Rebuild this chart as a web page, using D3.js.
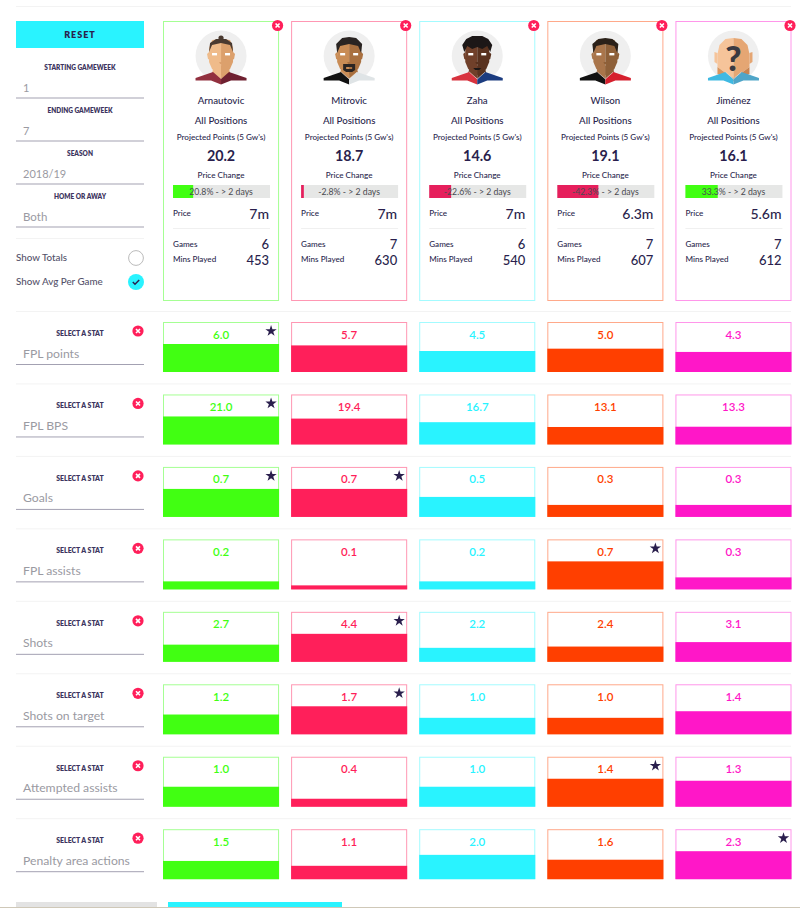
<!DOCTYPE html>
<html><head><meta charset="utf-8">
<script src="https://cdn.jsdelivr.net/npm/d3@7/dist/d3.min.js"></script>
<style>html,body{margin:0;padding:0;background:#fff;overflow:hidden}svg{display:block}text{font-family:Lato,"Noto Sans",sans-serif}</style>
</head><body><svg id="c" width="800" height="908"></svg>
<script>
const players=["Arnautovic","Mitrovic","Zaha","Wilson","Jiménez"];
const projected=[20.2,18.7,14.6,19.1,16.1];
const priceChange=[20.8,-2.8,-22.6,-42.3,33.3];
const prices=["7m","7m","7m","6.3m","5.6m"];
const games=[6,7,6,7,7];
const minsPlayed=[453,630,540,607,612];
const colors=["#41ff12","#ff1f5a","#29f3ff","#ff3f00","#ff17c8"];
const borders=["#a5ff93","#ff97b3","#a3fbff","#ffa98a","#ff96ea"];
const statNames=["FPL points","FPL BPS","Goals","FPL assists","Shots","Shots on target","Attempted assists","Penalty area actions"];
const fplPoints=[6.0,5.7,4.5,5.0,4.3];
const fplBps=[21.0,19.4,16.7,13.1,13.3];
const goals=[0.7,0.7,0.5,0.3,0.3];
const fplAssists=[0.2,0.1,0.2,0.7,0.3];
const shots=[2.7,4.4,2.2,2.4,3.1];
const shotsOnTarget=[1.2,1.7,1.0,1.0,1.4];
const attemptedAssists=[1.0,0.4,1.0,1.4,1.3];
const penaltyAreaActions=[1.5,1.1,2.0,1.6,2.3];
const statRows=[fplPoints,fplBps,goals,fplAssists,shots,shotsOnTarget,attemptedAssists,penaltyAreaActions];
const filters=[["STARTING GAMEWEEK","1"],["ENDING GAMEWEEK","7"],["SEASON","2018/19"],["HOME OR AWAY","Both"]];
const avatarStyles=[
 {l:"#efbb8a",r:"#dca06c",hair:"#4a3a30",jl:"#92303f",jr:"#6f2030",kind:"bun"},
 {l:"#c98c55",r:"#a9703f",hair:"#2a2422",jl:"#111111",jr:"#dfe4e6",kind:"goatee"},
 {l:"#70402a",r:"#59321f",hair:"#1c1717",jl:"#d8333f",jr:"#1c3c80",kind:"curly"},
 {l:"#a9754b",r:"#8e6039",hair:"#2b2119",jl:"#121212",jr:"#d6202e",kind:"short"},
 {l:"#f6c49a",r:"#e5a673",hair:"none",jl:"#3fb9e2",jr:"#4fa5c8",kind:"unknown"}
];
const navy="#2a1f4d", grey="#9a9aa2", rule="#f3f3f3";

const svg=d3.select("#c");
const x=d3.scaleBand().domain(players).range([163,791.5]).paddingInner(0.094);
const rowY=d3.scaleLinear().domain([0,7]).range([322,829.2]);
const boxH=50, barMax=28;
const pct=d3.scaleLinear().domain([0,100]).range([0,97]);
const fmt=d3.format(".1f");

function txt(g,s,xx,yy,size,opt={}){
  return g.append("text").attr("x",xx).attr("y",yy).attr("font-size",size).attr("dominant-baseline","central")
   .attr("text-anchor",opt.a||"middle").attr("fill",opt.c||navy).attr("font-weight",opt.w||500)
   .attr("letter-spacing",opt.ls||null).text(s);
}
function closeIcon(g,cx,cy){
  g.append("circle").attr("cx",cx).attr("cy",cy).attr("r",5.6).attr("fill","#ff1f5a");
  g.append("path").attr("d",`M${cx-2},${cy-2}L${cx+2},${cy+2}M${cx+2},${cy-2}L${cx-2},${cy+2}`)
   .attr("stroke","#fff").attr("stroke-width",1.6).attr("fill","none");
}
// page rules
svg.append("rect").attr("x",16).attr("y",6).attr("width",775).attr("height",1).attr("fill",rule);
svg.append("rect").attr("x",16).attr("y",238).attr("width",128).attr("height",1).attr("fill",rule);

// left panel
svg.append("rect").attr("x",16).attr("y",21).attr("width",128).attr("height",27).attr("fill","#29f3ff");
txt(svg,"RESET",80,34,9,{w:800,ls:"1px"});
filters.forEach((f,i)=>{
  const t=67+43*i;
  txt(svg,f[0],80,t,6.5,{w:800,c:"#3d3560"});
  txt(svg,f[1],23,t+20,i==3?11.5:11,{a:"start",c:grey,w:400});
  svg.append("rect").attr("x",16).attr("y",t+30.5).attr("width",128).attr("height",1).attr("fill","#a3a1b2");
});
txt(svg,"Show Totals",16,257,9.8,{a:"start",c:"#55526a",w:500});
txt(svg,"Show Avg Per Game",16,281,9.8,{a:"start",c:"#55526a",w:500});
svg.append("circle").attr("cx",136).attr("cy",258).attr("r",7.4).attr("fill","#fff").attr("stroke","#bbb").attr("stroke-width",1);
svg.append("circle").attr("cx",136).attr("cy",282).attr("r",8).attr("fill","#29f3ff");
svg.append("path").attr("d","M132.8,282L135,284.2L139.2,280").attr("stroke",navy).attr("stroke-width",1.5).attr("fill","none");

// avatar
function avatar(g,cx,cy,st){
  const a=g.append("g").attr("transform",`translate(${cx},${cy})`);
  a.append("circle").attr("r",25.5).attr("fill","#efefef");
  const p=(d,f)=>a.append("path").attr("d",d).attr("fill",f);
  if(st.kind==="unknown"){
    p("M-19,-4L-16,-3L-16,8L-19,6Z",st.l); p("M19,-4L16,-3L16,8L19,6Z",st.r);
    p("M0,-18L-8,-17L-14,-11L-16,-2L-16,11L-8,17L0,22Z",st.l);
    p("M0,-18L8,-17L14,-11L16,-2L16,11L8,17L0,22Z",st.r);
    p("M-16,11L-8,17L0,22L0,25L-16,18Z","#d9965f"); p("M16,11L8,17L0,22L0,25L16,18Z","#c98450");
  } else {
    p("M0,10L-7,9L-9,17L0,23Z",st.l); p("M0,10L7,9L9,17L0,23Z",st.r);
    p("M-12,-4L-14,-2L-13,3L-11,4Z",st.l); p("M12,-4L14,-2L13,3L11,4Z",st.r);
    p("M0,-17L-9,-16L-12,-8L-12,6L-9,13L-3,18L0,19Z",st.l);
    p("M0,-17L9,-16L12,-8L12,6L9,13L3,18L0,19Z",st.r);
    if(st.kind==="bun"){
      p("M-12,-4L-11,-13L-5,-17L5,-17L11,-13L12,-4L9,-11L0,-13L-9,-11Z",st.hair);
      a.append("circle").attr("cy",-18).attr("r",2.6).attr("fill",st.hair);
    } else if(st.kind==="goatee"){
      p("M-12,-3L-13,-12L-7,-18L0,-19L7,-18L13,-12L12,-3L9,-10L0,-12L-9,-10Z",st.hair);
      p("M-6,8L6,8L6,14L3,16L-3,16L-6,14L-6,11L-3,11L-3,13L3,13L3,11L-6,11Z",st.hair);
    } else if(st.kind==="curly"){
      p("M-13,-4L-15,-11L-11,-17L-5,-20L5,-20L11,-17L15,-11L13,-4L10,-10L5,-7L0,-9L-5,-7L-10,-10Z",st.hair);
      p("M-4,12L4,12L2,14L-2,14Z",st.hair);
    } else {
      p("M-12,-3L-13,-12L-7,-17L0,-18L7,-17L13,-12L12,-3L9,-10L0,-12L-9,-10Z",st.hair);
    }
    a.append("rect").attr("x",-9).attr("y",-3).attr("width",5).attr("height",2.4).attr("fill","#fff");
    a.append("rect").attr("x",4).attr("y",-3).attr("width",5).attr("height",2.4).attr("fill","#fff");
    p("M-2,6L2,6L1,8L-1,8Z",st.r);
  }
  p("M-25.5,22L-8,16L0,23L0,28.5L-10,24.5L-25.5,24.5Z",st.jl);
  p("M25.5,22L8,16L0,23L0,28.5L10,24.5L25.5,24.5Z",st.jr);
  if(st.kind!=="bun") a.append("path").attr("d","M-8,16L0,23L8,16").attr("fill","none").attr("stroke","#f2e9e4").attr("stroke-width",.6);
  if(st.kind==="unknown") a.append("text").attr("y",1).attr("text-anchor","middle").attr("dominant-baseline","central")
     .attr("font-size",35).attr("font-weight",900).attr("fill","#3a3a42").text("?");
}

// player cards
players.forEach((name,i)=>{
  const X=x(name), W=x.bandwidth(), cx=X+W/2, g=svg.append("g");
  g.append("rect").attr("x",X+.5).attr("y",21.5).attr("width",W-1).attr("height",279).attr("fill","#fff").attr("stroke",borders[i]).attr("stroke-width",1);
  closeIcon(g,X+W-1.5,25.5);
  avatar(g,cx,56,avatarStyles[i]);
  txt(g,name,cx,100,9.7);
  txt(g,"All Positions",cx,120,9.7);
  txt(g,"Projected Points (5 Gw's)",cx,136.5,8.1);
  txt(g,fmt(projected[i]),cx,155,14.3,{w:700});
  txt(g,"Price Change",cx,174.5,8.1);
  const bx=X+10;
  g.append("rect").attr("x",bx).attr("y",185).attr("width",pct(100)).attr("height",13).attr("fill","#e6e7e6");
  g.append("rect").attr("x",bx).attr("y",185).attr("width",pct(Math.abs(priceChange[i]))).attr("height",13)
    .attr("fill",priceChange[i]<0?"#e61f5c":"#41ff12");
  txt(g,`${priceChange[i]}% - > 2 days`,cx,191.5,8.7,{c:"#4a4a50",w:400});
  const L=X+10,R=X+W-10;
  txt(g,"Price",L,213,8.1,{a:"start"});
  txt(g,prices[i],R,213.5,14,{a:"end"});
  g.append("rect").attr("x",L).attr("y",228).attr("width",97).attr("height",1).attr("fill","#f0f0f0");
  txt(g,"Games",L,243.5,8.1,{a:"start"});
  txt(g,games[i],R,244,13,{a:"end"});
  txt(g,"Mins Played",L,259,8.1,{a:"start"});
  txt(g,minsPlayed[i],R,259.5,13,{a:"end"});
});

// stat rows
const star=d3.symbol().type(d3.symbolStar).size(40);
statRows.forEach((vals,r)=>{
  const t=rowY(r), g=svg.append("g");
  g.append("rect").attr("x",16).attr("y",t-11).attr("width",775).attr("height",1).attr("fill",rule);
  txt(g,"SELECT A STAT",80,t+11,6.9,{w:800,c:"#3d3560"});
  closeIcon(g,138,t+9);
  txt(g,statNames[r],23,t+31,12.2,{a:"start",c:grey,w:400});
  g.append("rect").attr("x",16).attr("y",t+42).attr("width",128).attr("height",1).attr("fill","#a3a1b2");
  const mx=d3.max(vals), h=d3.scaleLinear().domain([0,mx]).range([0,barMax]);
  players.forEach((p,i)=>{
    const X=x(p),W=x.bandwidth();
    g.append("rect").attr("x",X+.5).attr("y",t+.5).attr("width",W-1).attr("height",boxH-1).attr("fill","#fff").attr("stroke",borders[i]);
    g.append("rect").attr("x",X).attr("y",t+boxH-h(vals[i])).attr("width",W).attr("height",h(vals[i])).attr("fill",colors[i]);
    txt(g,fmt(vals[i]),X+W/2,t+12,11.5,{c:colors[i],w:600});
    if(vals[i]===mx) g.append("path").attr("d",star()).attr("transform",`translate(${X+W-8},${t+9})`).attr("fill",navy);
  });
});

// bottom strip
svg.append("rect").attr("x",16).attr("y",902).attr("width",141).attr("height",6).attr("fill","#e3e3e3");
svg.append("rect").attr("x",168).attr("y",902).attr("width",174).attr("height",6).attr("fill","#29f3ff");
svg.append("rect").attr("x",0).attr("y",907).attr("width",800).attr("height",1).attr("fill","#cfc8b8");
</script></body></html>
